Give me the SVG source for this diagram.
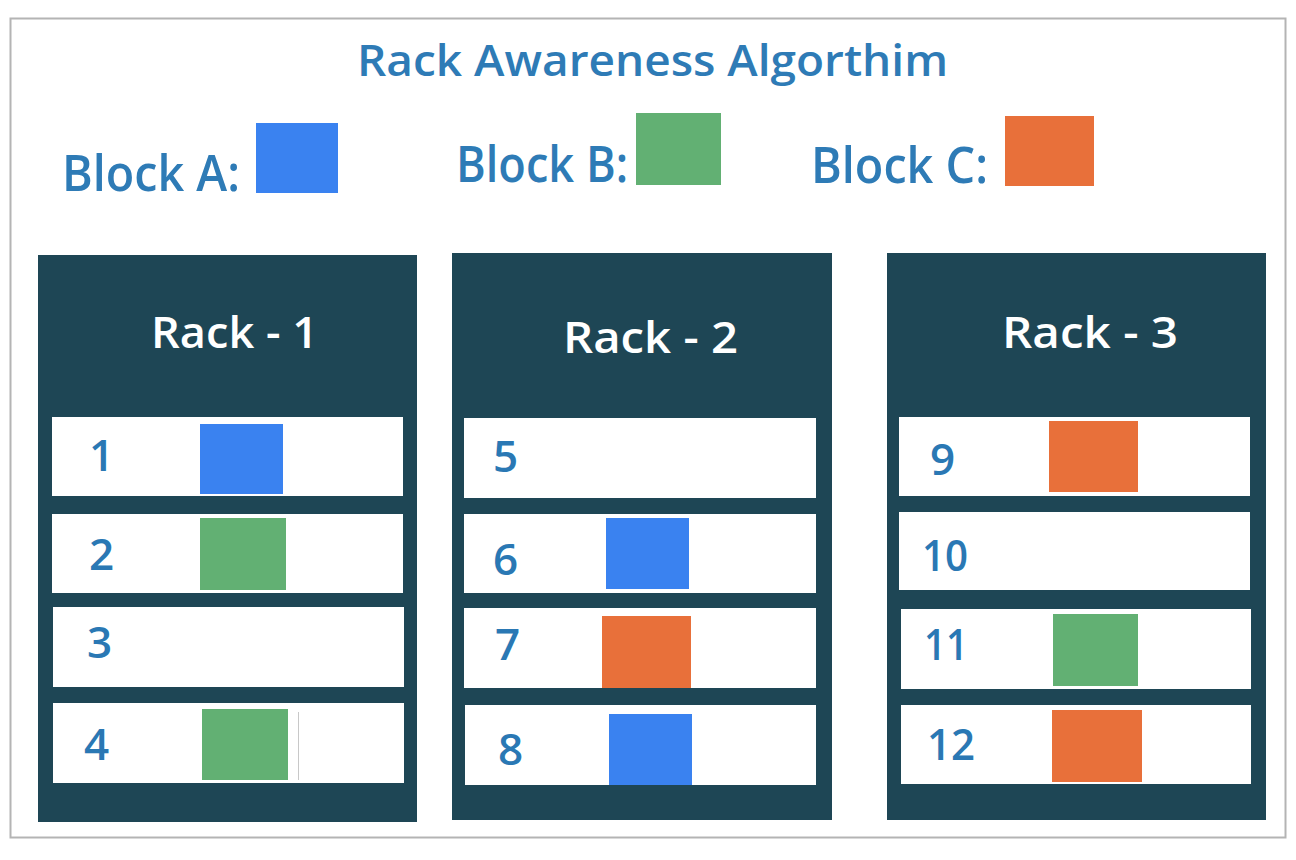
<svg xmlns="http://www.w3.org/2000/svg" width="1296" height="860" viewBox="0 0 1296 860">
<style>
.t{font-family:"Open Sans","Noto Sans",sans-serif;font-weight:600;fill:#2e7bb6}
.title{font-size:43px}
.leg{font-size:50px}
.rk{font-family:"Open Sans","Noto Sans",sans-serif;font-weight:600;font-size:43px;fill:#ffffff}
.num{font-family:"Open Sans","Noto Sans",sans-serif;font-weight:600;font-size:44px;fill:#2a78b4}
.rack{fill:#1e4655}
.slot{fill:#ffffff}
.a{fill:#3a82f0}
.b{fill:#62b073}
.c{fill:#e8703a}
</style>
<rect x="0" y="0" width="1296" height="860" fill="#ffffff"/>
<rect x="10.5" y="18.5" width="1275" height="819" fill="#ffffff" stroke="#b4b4b4" stroke-width="2"/>
<text class="t title" x="357" y="76" textLength="591" lengthAdjust="spacingAndGlyphs">Rack Awareness Algorthim</text>
<g id="legend-a"><text class="t leg" x="62" y="191" textLength="178" lengthAdjust="spacingAndGlyphs">Block A:</text><rect class="a" x="256" y="123" width="82" height="70"/></g>
<g id="legend-b"><text class="t leg" x="456" y="182" textLength="172" lengthAdjust="spacingAndGlyphs">Block B:</text><rect class="b" x="636" y="113" width="85" height="72"/></g>
<g id="legend-c"><text class="t leg" x="811" y="183" textLength="177" lengthAdjust="spacingAndGlyphs">Block C:</text><rect class="c" x="1005" y="116" width="89" height="70"/></g>

<g id="rack1">
<rect class="rack" x="38" y="255" width="379" height="567"/>
<text class="rk" x="151" y="348" textLength="167" lengthAdjust="spacingAndGlyphs">Rack - 1</text>
<g id="node1"><rect class="slot" x="52" y="417" width="351" height="79"/><text class="num" x="89" y="471">1</text><rect class="a" x="200" y="424" width="83" height="70"/></g>
<g id="node2"><rect class="slot" x="52" y="514" width="351" height="79"/><text class="num" x="89" y="570">2</text><rect class="b" x="200" y="518" width="86" height="72"/></g>
<g id="node3"><rect class="slot" x="53" y="607" width="351" height="80"/><text class="num" x="87" y="658">3</text></g>
<g id="node4"><rect class="slot" x="53" y="703" width="351" height="80"/><text class="num" x="84" y="760">4</text><rect class="b" x="202" y="709" width="86" height="71"/><line x1="298.5" y1="712" x2="298.5" y2="780" stroke="#c8c8c8" stroke-width="1"/></g>
</g>

<g id="rack2">
<rect class="rack" x="452" y="253" width="380" height="567"/>
<text class="rk" x="563" y="353" textLength="175" lengthAdjust="spacingAndGlyphs">Rack - 2</text>
<g id="node5"><rect class="slot" x="464" y="418" width="352" height="80"/><text class="num" x="493" y="472">5</text></g>
<g id="node6"><rect class="slot" x="464" y="514" width="352" height="79"/><text class="num" x="493" y="575">6</text><rect class="a" x="606" y="518" width="83" height="71"/></g>
<g id="node7"><rect class="slot" x="464" y="608" width="352" height="80"/><text class="num" x="495" y="660">7</text><rect class="c" x="602" y="616" width="89" height="72"/></g>
<g id="node8"><rect class="slot" x="465" y="705" width="351" height="80"/><text class="num" x="498" y="765">8</text><rect class="a" x="609" y="714" width="83" height="71"/></g>
</g>

<g id="rack3">
<rect class="rack" x="887" y="253" width="379" height="567"/>
<text class="rk" x="1002" y="348" textLength="176" lengthAdjust="spacingAndGlyphs">Rack - 3</text>
<g id="node9"><rect class="slot" x="899" y="417" width="351" height="79"/><text class="num" x="930" y="475">9</text><rect class="c" x="1049" y="421" width="89" height="71"/></g>
<g id="node10"><rect class="slot" x="899" y="512" width="351" height="78"/><text class="num" x="922" y="571" textLength="46" lengthAdjust="spacingAndGlyphs">10</text></g>
<g id="node11"><rect class="slot" x="901" y="609" width="350" height="80"/><text class="num" x="924" y="660" textLength="44" lengthAdjust="spacingAndGlyphs">11</text><rect class="b" x="1053" y="614" width="85" height="72"/></g>
<g id="node12"><rect class="slot" x="901" y="705" width="350" height="79"/><text class="num" x="927" y="760" textLength="48" lengthAdjust="spacingAndGlyphs">12</text><rect class="c" x="1052" y="710" width="90" height="72"/></g>
</g>
<g id="connectors"/>
</svg>
